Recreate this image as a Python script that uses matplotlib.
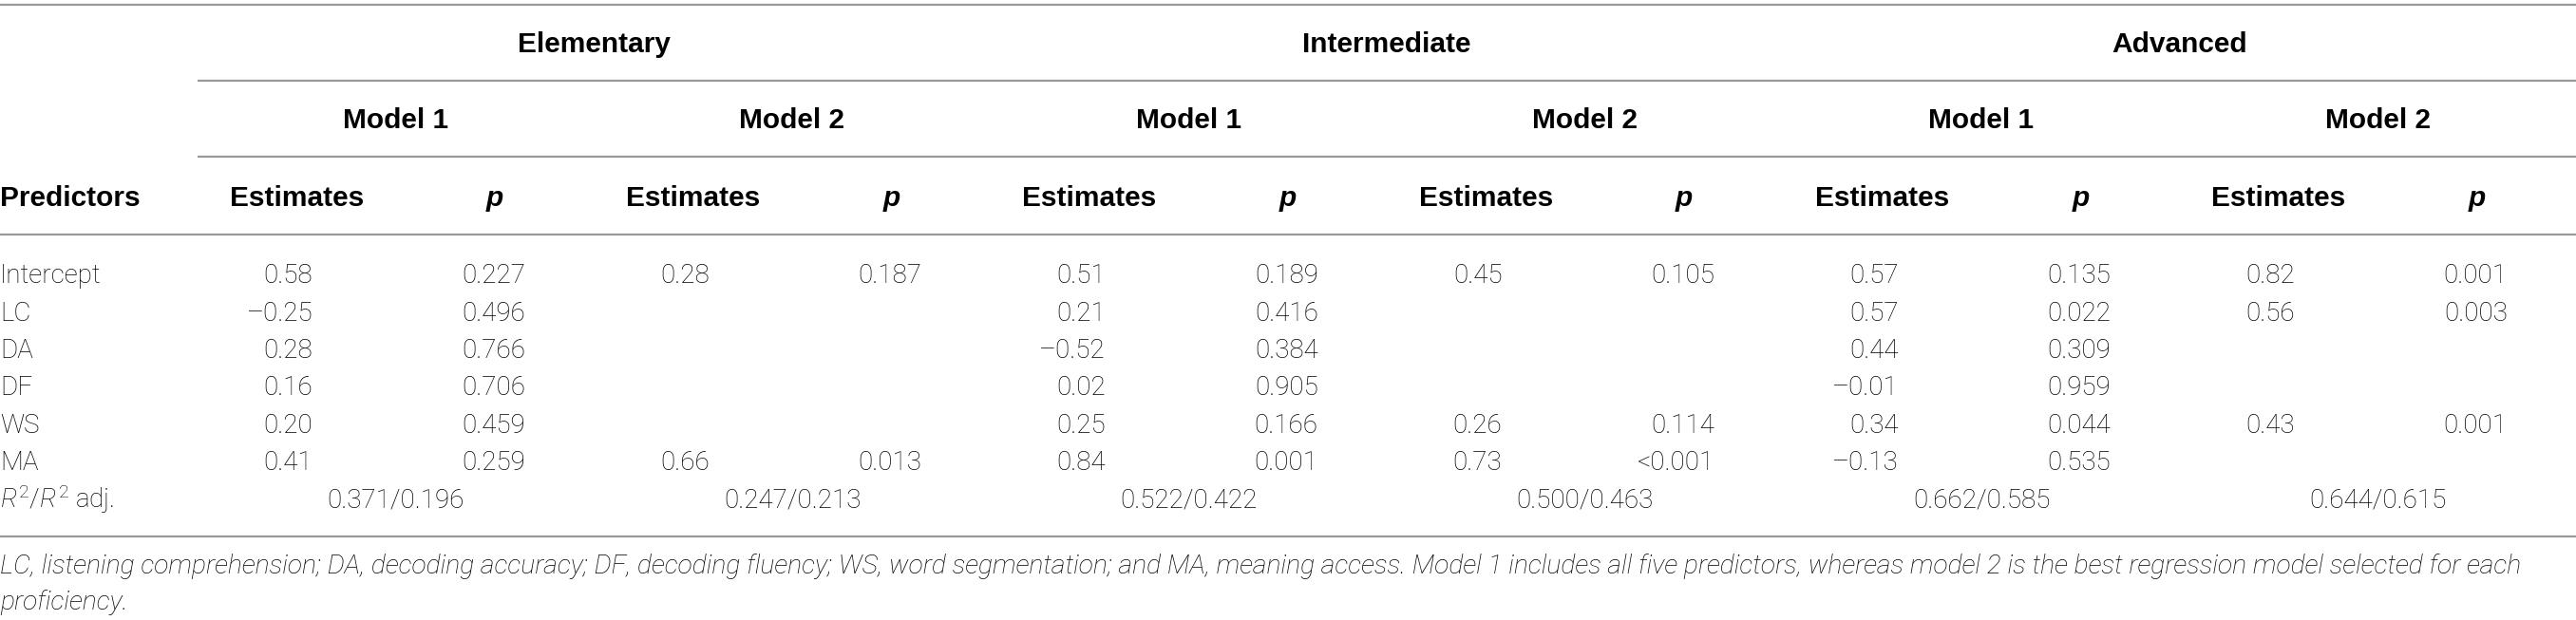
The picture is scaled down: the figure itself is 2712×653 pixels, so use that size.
import matplotlib
matplotlib.use('Agg')
import matplotlib.pyplot as plt

plt.rcParams['font.family'] = ['Roboto', 'DejaVu Sans']
plt.rcParams['mathtext.fontset'] = 'custom'
plt.rcParams['mathtext.rm'] = 'Roboto:light'
plt.rcParams['mathtext.it'] = 'Roboto:italic:light'

# table content
levels = ['Elementary', 'Intermediate', 'Advanced']
models = ['Model 1', 'Model 2']
predictors = ['Intercept', 'LC', 'DA', 'DF', 'WS', 'MA']

elem_m1_est = ['0.58', '–0.25', '0.28', '0.16', '0.20', '0.41']
elem_m1_p = ['0.227', '0.496', '0.766', '0.706', '0.459', '0.259']
elem_m2_est = ['0.28', '', '', '', '', '0.66']
elem_m2_p = ['0.187', '', '', '', '', '0.013']
int_m1_est = ['0.51', '0.21', '–0.52', '0.02', '0.25', '0.84']
int_m1_p = ['0.189', '0.416', '0.384', '0.905', '0.166', '0.001']
int_m2_est = ['0.45', '', '', '', '0.26', '0.73']
int_m2_p = ['0.105', '', '', '', '0.114', '<0.001']
adv_m1_est = ['0.57', '0.57', '0.44', '–0.01', '0.34', '–0.13']
adv_m1_p = ['0.135', '0.022', '0.309', '0.959', '0.044', '0.535']
adv_m2_est = ['0.82', '0.56', '', '', '0.43', '']
adv_m2_p = ['0.001', '0.003', '', '', '0.001', '']
r2 = ['0.371/0.196', '0.247/0.213', '0.522/0.422',
      '0.500/0.463', '0.662/0.585', '0.644/0.615']

footnote = ['LC, listening comprehension; DA, decoding accuracy; DF, decoding fluency; '
            'WS, word segmentation; and MA, meaning access. Model 1 includes all five '
            'predictors, whereas model 2 is the best regression model selected for each',
            'proficiency.']

columns = [elem_m1_est, elem_m1_p, elem_m2_est, elem_m2_p,
           int_m1_est, int_m1_p, int_m2_est, int_m2_p,
           adv_m1_est, adv_m1_p, adv_m2_est, adv_m2_p]

W, H = 2712, 653
fig = plt.figure(figsize=(W / 100, H / 100), dpi=100)
ax = fig.add_axes([0, 0, 1, 1])
ax.set_xlim(0, W)
ax.set_ylim(H, 0)
ax.axis('off')

fs = 20
hfs = 21.5
bold = dict(family=['Liberation Sans', 'DejaVu Sans'], fontweight='bold', fontsize=hfs)
light = dict(fontweight='light', fontsize=fs)
x0 = 208
colw = (W - x0) / 12
rule = dict(color='#999999', lw=1.6, solid_capstyle='butt')

# rules
ax.plot([0, W], [4.5, 4.5], **rule)
ax.plot([x0, W], [85, 85], **rule)
ax.plot([x0, W], [165, 165], **rule)
ax.plot([0, W], [247, 247], **rule)
ax.plot([0, W], [565, 565], **rule)

# header
for g, name in enumerate(levels):
    ax.text(x0 + colw * (4 * g + 2), 55, name, ha='center', va='baseline', **bold)
    for m, mname in enumerate(models):
        ax.text(x0 + colw * (4 * g + 2 * m + 1), 135, mname, ha='center',
                va='baseline', **bold)

ax.text(0, 217, 'Predictors', ha='left', va='baseline', **bold)
for k in range(12):
    c = x0 + colw * (k + 0.5)
    if k % 2 == 0:
        ax.text(c, 217, 'Estimates', ha='center', va='baseline', **bold)
    else:
        ax.text(c, 217, 'p', ha='center', va='baseline', fontstyle='italic', **bold)

# body
row_base = [298, 337.5, 377, 416, 455.5, 495]
for i, pred in enumerate(predictors):
    y = row_base[i]
    ax.text(0, y, pred, ha='left', va='baseline', **light)
    for k, col in enumerate(columns):
        c = x0 + colw * (k + 0.5)
        off = 17 if k % 2 == 0 else 32
        ax.text(c + off, y, col[i], ha='right', va='baseline', **light)

ax.text(0, 535, r'$R^2$/$R^2$ adj.', ha='left', va='baseline', **light)
for m, val in enumerate(r2):
    ax.text(x0 + colw * (2 * m + 1), 535, val, ha='center', va='baseline', **light)

# footnote, sized so the first line runs to where the original wraps
note = dict(fontweight='light', fontstyle='italic', fontsize=17)
t1 = ax.text(0, 604, footnote[0], ha='left', va='baseline', **note)
t2 = ax.text(0, 642, footnote[1], ha='left', va='baseline', **note)
fig.canvas.draw()
w1 = t1.get_window_extent().width
nfs = 17 * 2656 / w1
t1.set_fontsize(nfs)
t2.set_fontsize(nfs)

fig.savefig('out.png', dpi=100, facecolor='white')
